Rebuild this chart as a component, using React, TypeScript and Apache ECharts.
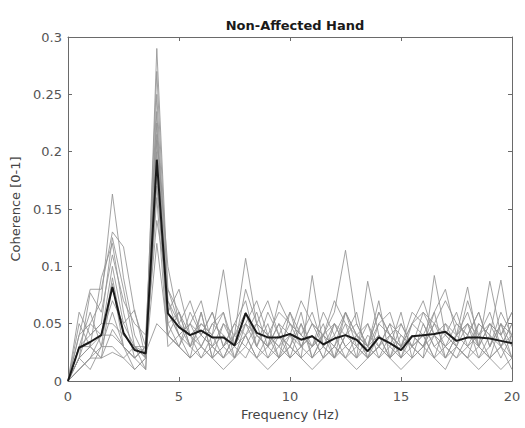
import React, { useEffect, useRef } from "react";
import * as echarts from "echarts";

const freqs: number[] = Array.from({ length: 41 }, (_, i) => i * 0.5);

const xTicks = [0, 5, 10, 15, 20];
const yTicks = [0, 0.05, 0.1, 0.15, 0.2, 0.25, 0.3];

const meanCoherence = [0, 0.029, 0.034, 0.040, 0.082, 0.042, 0.027, 0.024, 0.193, 0.059, 0.047, 0.040, 0.044, 0.038, 0.038, 0.031, 0.059, 0.042, 0.038, 0.038, 0.041, 0.036, 0.039, 0.032, 0.037, 0.040, 0.036, 0.026, 0.038, 0.033, 0.027, 0.039, 0.040, 0.041, 0.043, 0.035, 0.038, 0.038, 0.037, 0.035, 0.033];

const subject1 = [0, 0.02, 0.05, 0.07, 0.163, 0.09, 0.04, 0.02, 0.29, 0.08, 0.05, 0.07, 0.04, 0.06, 0.03, 0.05, 0.07, 0.03, 0.05, 0.02, 0.06, 0.04, 0.03, 0.05, 0.02, 0.06, 0.04, 0.03, 0.07, 0.02, 0.04, 0.03, 0.06, 0.04, 0.05, 0.03, 0.07, 0.04, 0.06, 0.03, 0.05];
const subject2 = [0, 0.04, 0.08, 0.08, 0.13, 0.117, 0.06, 0.03, 0.27, 0.07, 0.04, 0.03, 0.06, 0.02, 0.05, 0.04, 0.107, 0.05, 0.02, 0.04, 0.03, 0.06, 0.02, 0.04, 0.05, 0.03, 0.02, 0.04, 0.03, 0.05, 0.02, 0.04, 0.03, 0.06, 0.02, 0.04, 0.03, 0.05, 0.04, 0.02, 0.04];
const subject3 = [0, 0.06, 0.04, 0.05, 0.125, 0.08, 0.03, 0.02, 0.25, 0.06, 0.08, 0.04, 0.03, 0.05, 0.06, 0.02, 0.04, 0.06, 0.03, 0.05, 0.04, 0.02, 0.092, 0.03, 0.04, 0.06, 0.03, 0.02, 0.05, 0.04, 0.03, 0.06, 0.05, 0.03, 0.04, 0.06, 0.03, 0.04, 0.02, 0.05, 0.03];
const subject4 = [0, 0.03, 0.03, 0.09, 0.12, 0.06, 0.02, 0.03, 0.235, 0.05, 0.06, 0.03, 0.05, 0.04, 0.02, 0.04, 0.05, 0.03, 0.06, 0.04, 0.02, 0.05, 0.03, 0.04, 0.06, 0.114, 0.05, 0.03, 0.04, 0.02, 0.05, 0.03, 0.04, 0.02, 0.05, 0.04, 0.06, 0.03, 0.05, 0.04, 0.02];
const subject5 = [0, 0.02, 0.077, 0.06, 0.11, 0.07, 0.05, 0.04, 0.225, 0.04, 0.03, 0.06, 0.04, 0.03, 0.05, 0.03, 0.06, 0.04, 0.03, 0.07, 0.05, 0.03, 0.04, 0.02, 0.03, 0.05, 0.02, 0.087, 0.04, 0.03, 0.06, 0.02, 0.05, 0.03, 0.02, 0.04, 0.05, 0.02, 0.03, 0.06, 0.04];
const subject6 = [0, 0.01, 0.02, 0.04, 0.10, 0.05, 0.03, 0.01, 0.215, 0.1, 0.05, 0.04, 0.02, 0.04, 0.097, 0.03, 0.04, 0.02, 0.04, 0.03, 0.05, 0.04, 0.03, 0.06, 0.04, 0.02, 0.03, 0.05, 0.02, 0.04, 0.03, 0.05, 0.07, 0.04, 0.03, 0.02, 0.04, 0.06, 0.03, 0.05, 0.02];
const subject7 = [0, 0.03, 0.06, 0.03, 0.09, 0.04, 0.03, 0.02, 0.21, 0.06, 0.04, 0.05, 0.07, 0.03, 0.04, 0.02, 0.05, 0.07, 0.04, 0.02, 0.04, 0.07, 0.05, 0.03, 0.02, 0.04, 0.06, 0.02, 0.03, 0.05, 0.04, 0.03, 0.02, 0.092, 0.04, 0.03, 0.02, 0.05, 0.04, 0.088, 0.03];
const subject8 = [0, 0.02, 0.03, 0.02, 0.085, 0.03, 0.02, 0.03, 0.20, 0.05, 0.03, 0.02, 0.03, 0.02, 0.03, 0.04, 0.06, 0.03, 0.02, 0.03, 0.02, 0.03, 0.04, 0.02, 0.05, 0.03, 0.04, 0.02, 0.03, 0.02, 0.03, 0.04, 0.03, 0.05, 0.03, 0.04, 0.082, 0.03, 0.02, 0.03, 0.01];
const subject9 = [0, 0.04, 0.05, 0.04, 0.07, 0.05, 0.062, 0.02, 0.19, 0.07, 0.05, 0.03, 0.04, 0.06, 0.03, 0.05, 0.04, 0.05, 0.07, 0.04, 0.03, 0.05, 0.02, 0.04, 0.07, 0.05, 0.04, 0.03, 0.06, 0.04, 0.02, 0.05, 0.04, 0.06, 0.08, 0.04, 0.05, 0.03, 0.087, 0.04, 0.06];
const subject10 = [0, 0.01, 0.02, 0.03, 0.06, 0.03, 0.02, 0.01, 0.18, 0.04, 0.06, 0.03, 0.02, 0.03, 0.02, 0.03, 0.02, 0.04, 0.03, 0.02, 0.03, 0.02, 0.03, 0.04, 0.02, 0.03, 0.02, 0.03, 0.02, 0.03, 0.02, 0.03, 0.04, 0.02, 0.03, 0.02, 0.03, 0.02, 0.04, 0.03, 0.02];
const subject11 = [0, 0.03, 0.04, 0.05, 0.05, 0.04, 0.03, 0.03, 0.17, 0.06, 0.04, 0.05, 0.03, 0.05, 0.04, 0.03, 0.08, 0.05, 0.04, 0.06, 0.05, 0.04, 0.06, 0.03, 0.05, 0.04, 0.05, 0.03, 0.06, 0.04, 0.03, 0.05, 0.06, 0.05, 0.04, 0.03, 0.05, 0.04, 0.05, 0.03, 0.04];
const subject12 = [0, 0.02, 0.03, 0.02, 0.045, 0.03, 0.01, 0.02, 0.16, 0.03, 0.04, 0.02, 0.06, 0.02, 0.03, 0.02, 0.04, 0.02, 0.03, 0.05, 0.02, 0.03, 0.02, 0.03, 0.02, 0.04, 0.03, 0.02, 0.04, 0.02, 0.03, 0.02, 0.03, 0.04, 0.02, 0.03, 0.02, 0.03, 0.02, 0.03, 0.05];
const subject13 = [0, 0.05, 0.03, 0.04, 0.04, 0.03, 0.02, 0.03, 0.14, 0.08, 0.06, 0.04, 0.05, 0.04, 0.06, 0.03, 0.05, 0.04, 0.03, 0.04, 0.06, 0.03, 0.05, 0.04, 0.03, 0.06, 0.04, 0.03, 0.05, 0.06, 0.03, 0.04, 0.03, 0.05, 0.07, 0.05, 0.04, 0.06, 0.03, 0.05, 0.04];
const subject14 = [0, 0.02, 0.01, 0.03, 0.03, 0.02, 0.01, 0.02, 0.12, 0.04, 0.03, 0.02, 0.03, 0.02, 0.01, 0.02, 0.03, 0.02, 0.01, 0.02, 0.03, 0.02, 0.01, 0.02, 0.03, 0.02, 0.01, 0.02, 0.03, 0.02, 0.01, 0.02, 0.03, 0.02, 0.01, 0.03, 0.02, 0.01, 0.02, 0.01, 0.02];
const subject15 = [0, 0.01, 0.02, 0.02, 0.025, 0.02, 0.03, 0.025, 0.05, 0.04, 0.03, 0.05, 0.04, 0.03, 0.02, 0.04, 0.03, 0.05, 0.04, 0.03, 0.04, 0.03, 0.05, 0.04, 0.03, 0.02, 0.04, 0.05, 0.03, 0.04, 0.05, 0.03, 0.02, 0.04, 0.03, 0.05, 0.04, 0.03, 0.05, 0.04, 0.06];

const subjects = [subject1, subject2, subject3, subject4, subject5, subject6, subject7, subject8, subject9, subject10, subject11, subject12, subject13, subject14, subject15];

const FONT = "DejaVu Sans";

export default function App() {
  const ref = useRef<HTMLDivElement>(null);
  useEffect(() => {
    if (!ref.current) return;
    const chart = echarts.init(ref.current, undefined, { renderer: "svg" });
    const toPairs = (vals: number[]) => vals.map((v, i) => [freqs[i], v]);
    const axisLineStyle = { color: "#6a6a6a", width: 1 };
    const series: any[] = subjects.map((s, k) => ({
      name: "Subject " + (k + 1),
      type: "line",
      data: toPairs(s),
      showSymbol: false,
      symbol: "none",
      lineStyle: { color: "#939393", width: 1, opacity: 0.85 },
      z: 2,
      silent: true,
    }));
    series.push({
      name: "Mean",
      type: "line",
      data: toPairs(meanCoherence),
      showSymbol: false,
      symbol: "none",
      lineStyle: { color: "#1a1a1a", width: 2 },
      z: 5,
      silent: true,
    });
    const boxAxis = {
      type: "value",
      axisLine: { show: true, onZero: false, lineStyle: axisLineStyle },
      axisTick: { show: true, inside: true, length: 4, lineStyle: axisLineStyle },
      axisLabel: { show: false },
      splitLine: { show: false },
    };
    chart.setOption({
      animation: false,
      backgroundColor: "#ffffff",
      title: {
        text: "Non-Affected Hand",
        left: 290,
        top: 14,
        textAlign: "center",
        textStyle: { fontFamily: FONT, fontSize: 13, fontWeight: "bold", color: "#1a1a1a" },
      },
      grid: { left: 68, right: 13, top: 37, bottom: 47, containLabel: false },
      xAxis: [
        {
          type: "value",
          min: xTicks[0],
          max: xTicks[xTicks.length - 1],
          interval: 5,
          name: "Frequency (Hz)",
          nameLocation: "middle",
          nameGap: 27,
          nameTextStyle: { fontFamily: FONT, fontSize: 13, color: "#444" },
          axisLine: { show: true, onZero: false, lineStyle: axisLineStyle },
          axisTick: { show: true, inside: true, length: 4, lineStyle: axisLineStyle },
          axisLabel: { fontFamily: FONT, fontSize: 13, color: "#555", margin: 9 },
          splitLine: { show: false },
        },
        {
          ...boxAxis,
          position: "top",
          min: xTicks[0],
          max: xTicks[xTicks.length - 1],
          interval: 5,
        },
      ],
      yAxis: [
        {
          type: "value",
          min: yTicks[0],
          max: yTicks[yTicks.length - 1],
          interval: 0.05,
          name: "Coherence [0-1]",
          nameLocation: "middle",
          nameGap: 38,
          nameTextStyle: { fontFamily: FONT, fontSize: 13, color: "#444" },
          axisLine: { show: true, onZero: false, lineStyle: axisLineStyle },
          axisTick: { show: true, inside: true, length: 4, lineStyle: axisLineStyle },
          axisLabel: { fontFamily: FONT, fontSize: 13, color: "#555", margin: 6 },
          splitLine: { show: false },
        },
        {
          ...boxAxis,
          position: "right",
          min: yTicks[0],
          max: yTicks[yTicks.length - 1],
          interval: 0.05,
        },
      ],
      series,
    });
    return () => chart.dispose();
  }, []);
  return <div ref={ref} style={{ width: 525, height: 428, position: "absolute", left: 0, top: 0 }} />;
}
